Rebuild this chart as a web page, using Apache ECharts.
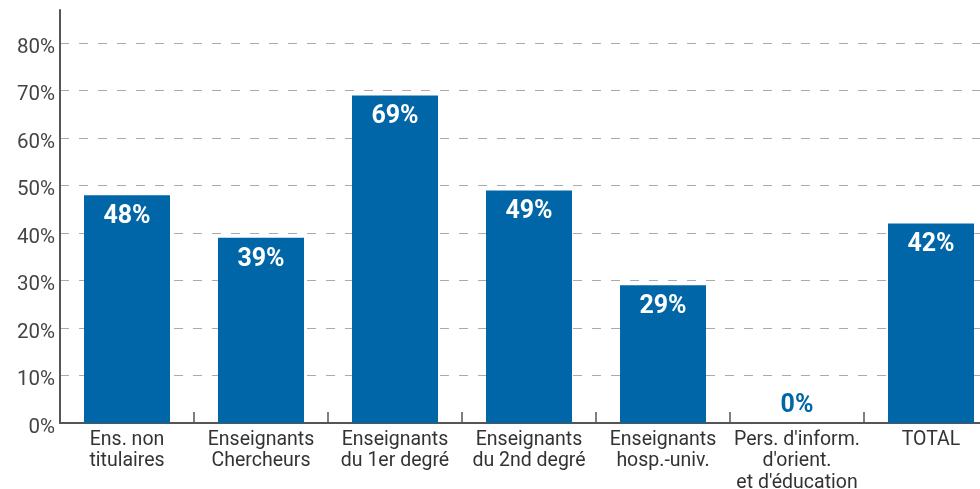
<!DOCTYPE html>
<html>
<head>
<meta charset="utf-8">
<script src="https://cdn.jsdelivr.net/npm/echarts@6/dist/echarts.min.js"></script>
<style>
  html, body { margin: 0; padding: 0; background: #fff; overflow: hidden; }
  #chart { width: 1000px; height: 489px; }
</style>
</head>
<body>
<div id="chart"></div>
<script>
// Share of each staff category (percent)
const categories = [
  'Ens. non\ntitulaires',
  'Enseignants\nChercheurs',
  'Enseignants\ndu 1er degré',
  'Enseignants\ndu 2nd degré',
  'Enseignants\nhosp.-univ.',
  "Pers. d'inform.\nd'orient.\net d'éducation",
  'TOTAL'
];
const values = [48, 39, 69, 49, 29, 0, 42];
const yTicks = [0, 10, 20, 30, 40, 50, 60, 70, 80];

const BLUE = '#0066a8';
const FONT = 'Roboto, "Open Sans", sans-serif';

const chart = echarts.init(document.getElementById('chart'), null, { renderer: 'canvas' });

chart.setOption({
  animation: false,
  grid: {
    left: 60, top: 10, width: 938, bottom: 66,
    containLabel: false, outerBoundsMode: 'none'
  },
  xAxis: {
    type: 'category',
    data: categories,
    axisLine: { lineStyle: { color: '#555', width: 2 } },
    axisTick: { show: true, inside: true, length: 11, lineStyle: { color: '#555', width: 1.5 } },
    axisLabel: {
      color: '#333', fontFamily: FONT, fontSize: 19.5, lineHeight: 21.5,
      margin: 6, interval: 0
    }
  },
  yAxis: {
    type: 'value',
    min: 0,
    max: 87,
    interval: 10,
    axisLine: { show: true, lineStyle: { color: '#555', width: 2 } },
    axisTick: { show: false },
    axisLabel: {
      color: '#444', fontFamily: FONT, fontSize: 20.5, margin: 5,
      verticalAlign: 'top',
      padding: [-6, 0, 0, 0],
      formatter: v => (yTicks.indexOf(v) >= 0 ? v + '%' : '')
    },
    splitLine: {
      show: true,
      showMaxLine: false,
      lineStyle: { color: '#aaa', type: [9, 10], width: 1.2 }
    }
  },
  series: [{
    type: 'bar',
    data: values.map(v => ({
      value: v,
      label: v === 0
        ? { position: 'top', color: BLUE, distance: 5 }
        : { position: 'insideTop', color: '#fff', distance: 9 }
    })),
    barWidth: 86,
    itemStyle: { color: BLUE },
    label: {
      show: true,
      fontFamily: FONT,
      fontWeight: 'bold',
      fontSize: 25,
      formatter: p => p.value + '%'
    }
  }]
});
</script>
</body>
</html>
